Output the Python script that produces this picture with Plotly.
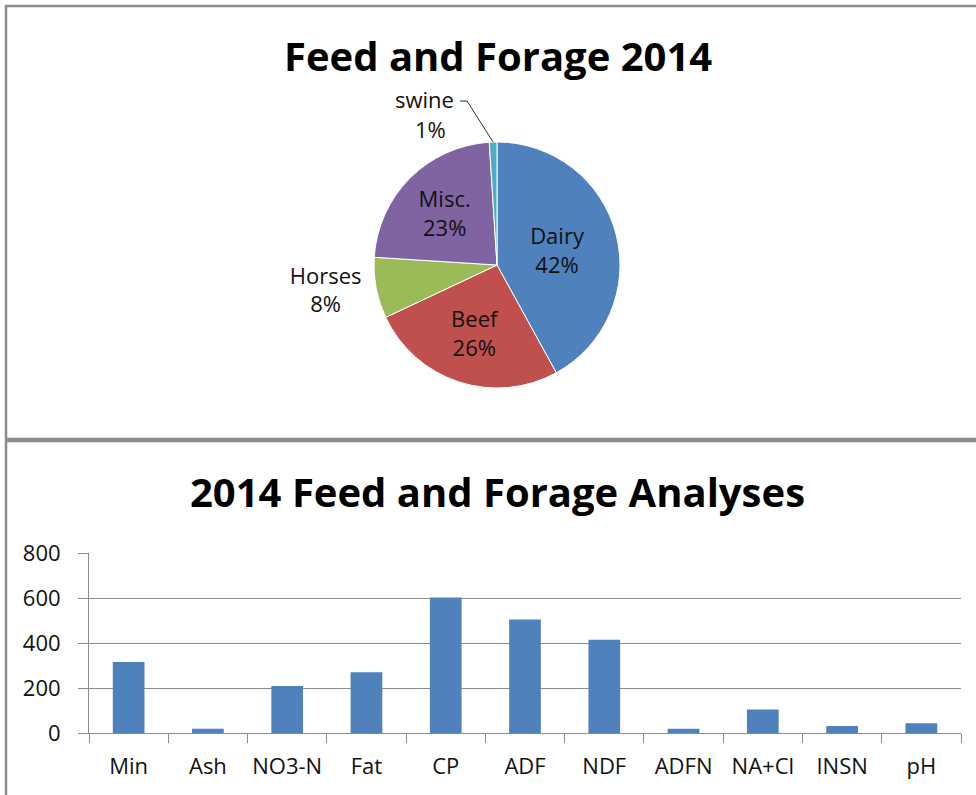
import math
import plotly.graph_objects as go

# ---- data ----
pie_labels = ["Dairy", "Beef", "Horses", "Misc.", "swine"]
pie_values = [42, 26, 8, 23, 1]
pie_colors = ["#4F81BD", "#C0504D", "#9BBB59", "#8064A2", "#4BACC6"]
pie_textpos = ["inside", "inside", "outside", "inside", "none"]

bar_categories = ["Min", "Ash", "NO3-N", "Fat", "CP", "ADF", "NDF", "ADFN", "NA+Cl", "INSN", "pH"]
bar_values = [316, 19, 209, 270, 602, 505, 414, 19, 105, 31, 43]

y_ticks = [0, 200, 400, 600, 800]

title_top = "Feed and Forage 2014"
title_bottom = "2014 Feed and Forage Analyses"

W, H = 976, 795
FONT = "Open Sans"
GRAY = "#8c8c8c"
TXT = "#111111"


def px(x):
    return x / W


def py(y):
    return 1 - y / H


# pie geometry (pixels)
PIE_L, PIE_R, PIE_T, PIE_B = 374, 620, 142, 388
cx, cy = (PIE_L + PIE_R) / 2, (PIE_T + PIE_B) / 2
rad = (PIE_R - PIE_L) / 2

fig = go.Figure()

fig.add_trace(go.Pie(
    labels=pie_labels,
    values=pie_values,
    sort=False,
    direction="clockwise",
    rotation=0,
    marker=dict(colors=pie_colors, line=dict(color="white", width=1)),
    textposition=pie_textpos,
    texttemplate="%{label}<br>%{percent:.0%}",
    textfont=dict(family=FONT, size=22, color=TXT),
    insidetextfont=dict(family=FONT, size=22, color=TXT),
    outsidetextfont=dict(family=FONT, size=22, color=TXT),
    domain=dict(x=[px(PIE_L), px(PIE_R)], y=[py(PIE_B), py(PIE_T)]),
    showlegend=False,
    hoverinfo="label+percent",
))

fig.add_trace(go.Bar(
    x=bar_categories,
    y=bar_values,
    marker=dict(color="#4F81BD", line=dict(width=0)),
    width=0.4,
    showlegend=False,
    xaxis="x",
    yaxis="y",
))

# swine label with leader line (end point derived from the slice's mid angle)
total = sum(pie_values)
start = sum(pie_values[:-1]) / total
mid = (start + pie_values[-1] / total / 2) * 2 * math.pi
end_x = cx + rad * math.sin(mid)
end_y = cy - rad * math.cos(mid)
pct = round(pie_values[-1] / total * 100)

fig.update_layout(
    width=W,
    height=H,
    margin=dict(l=0, r=0, t=0, b=0),
    paper_bgcolor="white",
    plot_bgcolor="white",
    font=dict(family=FONT, color=TXT),
    xaxis=dict(
        domain=[px(89), px(961)],
        anchor="y",
        type="category",
        tickson="boundaries",
        ticks="outside",
        ticklen=9,
        tickcolor=GRAY,
        showline=True,
        linecolor=GRAY,
        linewidth=1,
        showgrid=False,
        tickfont=dict(family=FONT, size=22, color=TXT),
        automargin=False,
        ticklabelstandoff=14,
    ),
    yaxis=dict(
        domain=[py(733), py(553)],
        anchor="x",
        range=[0, 800],
        tickvals=y_ticks,
        ticks="outside",
        ticklen=10,
        tickcolor=GRAY,
        showline=True,
        linecolor=GRAY,
        linewidth=1,
        showgrid=True,
        gridcolor=GRAY,
        gridwidth=1,
        zeroline=False,
        tickfont=dict(family=FONT, size=22, color=TXT),
        automargin=False,
        ticklabelstandoff=13,
    ),
    annotations=[
        dict(text="<b>%s</b>" % title_top, x=px(498), y=py(56), xref="paper", yref="paper",
             xanchor="center", yanchor="middle", showarrow=False, borderpad=0,
             font=dict(family=FONT, size=40, color="#000000")),
        dict(text="<b>%s</b>" % title_bottom, x=px(497), y=py(491), xref="paper", yref="paper",
             xanchor="center", yanchor="middle", showarrow=False,
             font=dict(family=FONT, size=40, color="#000000")),
        dict(text=pie_labels[-1], x=px(424), y=py(99), borderpad=0,
             xref="paper", yref="paper", xanchor="center", yanchor="middle",
             showarrow=False, font=dict(family=FONT, size=22, color=TXT)),
        dict(text="%d%%" % pct, x=px(430), y=py(129), borderpad=0,
             xref="paper", yref="paper", xanchor="center", yanchor="middle",
             showarrow=False, font=dict(family=FONT, size=22, color=TXT)),
    ],
    shapes=[
        dict(type="line", xref="paper", yref="paper", x0=px(5), x1=1, y0=py(6), y1=py(6),
             line=dict(color=GRAY, width=2.5)),
        dict(type="line", xref="paper", yref="paper", x0=px(6), x1=px(6), y0=py(5), y1=0,
             line=dict(color=GRAY, width=2.5)),
        dict(type="line", xref="paper", yref="paper", x0=px(5), x1=1, y0=py(440), y1=py(440),
             line=dict(color=GRAY, width=4.5)),
        dict(type="path", xref="paper", yref="paper",
             path="M %f,%f L %f,%f L %f,%f" % (px(460), py(101), px(467), py(101), px(end_x), py(end_y)),
             line=dict(color="#333333", width=1)),
    ],
)

fig.write_html("out.html", config={"displayModeBar": False},
               post_script="document.body.style.margin='0px';")
